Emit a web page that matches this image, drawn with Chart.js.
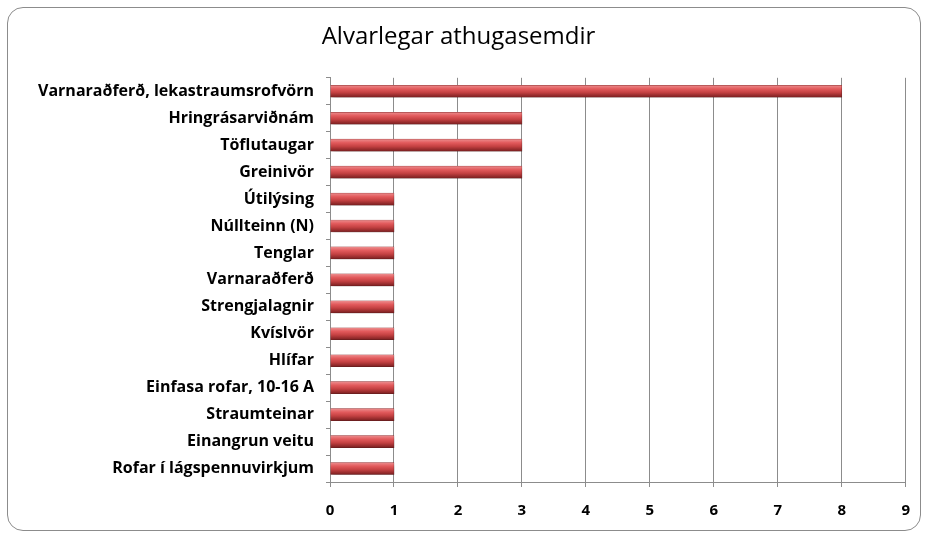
<!DOCTYPE html>
<html>
<head>
<meta charset="utf-8">
<script src="https://cdn.jsdelivr.net/npm/chart.js@4"></script>
<style>
  html, body { margin: 0; padding: 0; background: #fff; }
  #wrap { position: relative; width: 925px; height: 536px; }
  #frame { position: absolute; left: 7px; top: 7px; width: 912px; height: 522px;
           border: 1.5px solid #8c8c8c; border-radius: 16px; }
  canvas { position: absolute; left: 0; top: 0; }
</style>
</head>
<body>
<div id="wrap">
  <div id="frame"></div>
  <canvas id="chart" width="925" height="536"></canvas>
</div>
<script>
const flokkar = [
  'Varnaraðferð, lekastraumsrofvörn',
  'Hringrásarviðnám',
  'Töflutaugar',
  'Greinivör',
  'Útilýsing',
  'Núllteinn (N)',
  'Tenglar',
  'Varnaraðferð',
  'Strengjalagnir',
  'Kvíslvör',
  'Hlífar',
  'Einfasa rofar, 10-16 A',
  'Straumteinar',
  'Einangrun veitu',
  'Rofar í lágspennuvirkjum'
];
const fjoldi = [8, 3, 3, 3, 1, 1, 1, 1, 1, 1, 1, 1, 1, 1, 1];
const asMerki = [0, 1, 2, 3, 4, 5, 6, 7, 8, 9];

const THYKKT = 12;

// rauður litur með dekkri neðri hluta, eins og í Excel
function slaufa(context) {
  const chart = context.chart;
  const y = chart.scales.y;
  if (!y || context.dataIndex === undefined) return '#c0504d';
  const midja = y.getPixelForValue(context.dataIndex);
  if (!isFinite(midja)) return '#c0504d';
  const g = chart.ctx.createLinearGradient(0, midja - THYKKT / 2, 0, midja + THYKKT / 2);
  g.addColorStop(0, '#ec8d8e');
  g.addColorStop(0.3, '#e25a5c');
  g.addColorStop(0.6, '#c44142');
  g.addColorStop(1, '#7a1f20');
  return g;
}

const skuggi = {
  id: 'skuggi',
  beforeDatasetsDraw(chart) {
    const ctx = chart.ctx;
    ctx.save();
    ctx.shadowColor = 'rgba(0,0,0,0.35)';
    ctx.shadowBlur = 4;
    ctx.shadowOffsetX = 2;
    ctx.shadowOffsetY = 3;
  },
  afterDatasetsDraw(chart) {
    chart.ctx.restore();
  }
};

Chart.defaults.font.family = '"Open Sans", Lato, sans-serif';
Chart.defaults.color = '#000';

new Chart(document.getElementById('chart').getContext('2d'), {
  type: 'bar',
  data: {
    labels: flokkar,
    datasets: [{
      data: fjoldi,
      backgroundColor: slaufa,
      borderColor: '#8a2a2b',
      borderWidth: 0.5,
      barThickness: THYKKT
    }]
  },
  plugins: [skuggi],
  options: {
    indexAxis: 'y',
    responsive: false,
    animation: false,
    layout: { padding: { left: 10, right: 18, top: 0, bottom: 1 } },
    plugins: {
      legend: { display: false },
      tooltip: { enabled: false },
      title: {
        display: true,
        text: 'Alvarlegar athugasemdir',
        font: { size: 24, weight: 'normal' },
        color: '#000',
        padding: { top: 23, bottom: 26 }
      }
    },
    scales: {
      x: {
        min: 0,
        max: 9,
        afterBuildTicks(scale) {
          scale.ticks = asMerki.map(v => ({ value: v }));
        },
        grid: { color: '#8c8c8c', lineWidth: 1, tickLength: 5 },
        border: { color: '#8c8c8c' },
        ticks: { font: { size: 15, weight: 'bold' }, padding: 15 }
      },
      y: {
        afterFit(scale) { scale.width = 320; },
        grid: { offset: true, drawOnChartArea: false, color: '#8c8c8c', tickLength: 4 },
        border: { color: '#8c8c8c' },
        ticks: { font: { size: 16, weight: 'bold' }, padding: 12, autoSkip: false }
      }
    }
  }
});
</script>
</body>
</html>
